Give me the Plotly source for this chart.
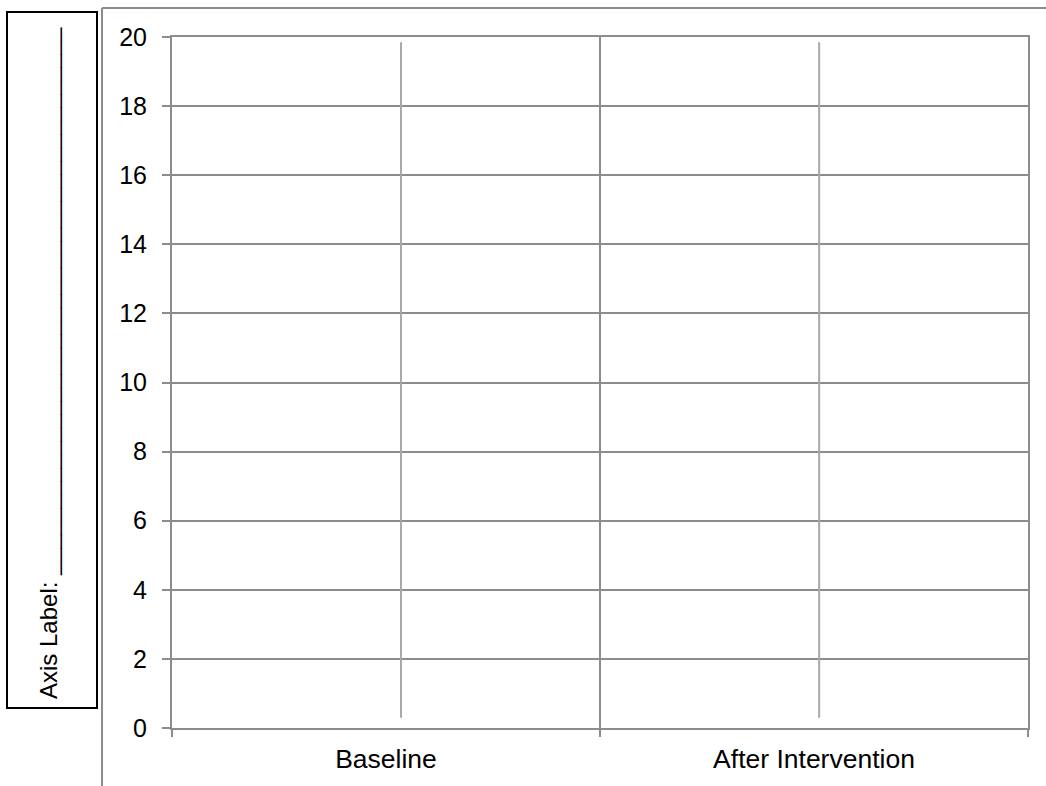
import plotly.graph_objects as go

categories = ["Baseline", "After Intervention"]
line_pos = [0.035, 1.012]      # position of the vertical lines, in category units
line_low = [0.3, 0.3]
line_high = [19.85, 19.85]
y_ticks = [0, 2, 4, 6, 8, 10, 12, 14, 16, 18, 20]
axis_label_text = "Axis Label: " + "_" * 41

W, H = 1046, 786
L, R, T, B = 172, 18, 37, 58
pw, ph = W - L - R, H - T - B

def px(x):
    return (x - L) / pw

def py(y):
    return (H - B - y) / ph

GRID = "#8c8c8c"
FONT = "Liberation Sans, Arial, sans-serif"

fig = go.Figure()
# invisible trace to anchor categories on the main x axis
fig.add_trace(go.Scatter(x=categories, y=[None, None], mode="markers",
                         showlegend=False, hoverinfo="skip"))
for xp, lo, hi in zip(line_pos, line_low, line_high):
    fig.add_trace(go.Scatter(x=[xp, xp], y=[lo, hi], mode="lines", xaxis="x2",
                             line=dict(color="#a8a8a8", width=2),
                             showlegend=False, hoverinfo="skip"))

fig.update_layout(
    width=W, height=H,
    margin=dict(l=L, r=R, t=T, b=B),
    paper_bgcolor="white", plot_bgcolor="white",
    font=dict(family=FONT, size=24, color="black"),
    showlegend=False,
    xaxis=dict(
        type="category", categoryorder="array", categoryarray=categories,
        range=[-0.5, 1.5], tickson="boundaries",
        ticks="outside", ticklen=7, tickwidth=2, tickcolor=GRID,
        showgrid=True, gridcolor=GRID, gridwidth=2,
        showline=True, linecolor=GRID, linewidth=2, mirror=True,
        tickfont=dict(size=26.5, color="black"), zeroline=False,
        ticklabelstandoff=6,
    ),
    xaxis2=dict(
        overlaying="x", range=[-0.5, 1.5], visible=False,
        showgrid=False, zeroline=False,
    ),
    yaxis=dict(
        range=[0, 20], tickvals=y_ticks,
        ticks="outside", ticklen=8, tickwidth=2, tickcolor=GRID,
        showgrid=True, gridcolor=GRID, gridwidth=2,
        showline=True, linecolor=GRID, linewidth=2, mirror=True,
        zeroline=False, tickfont=dict(size=25, color="black"),
        ticklabelstandoff=10,
    ),
)

# outer chart-area border (partially visible)
fig.add_shape(type="line", xref="paper", yref="paper",
              x0=px(102), x1=px(W + 5), y0=py(8), y1=py(8),
              line=dict(color=GRID, width=2))
fig.add_shape(type="line", xref="paper", yref="paper",
              x0=px(102), x1=px(102), y0=py(8), y1=py(H + 5),
              line=dict(color=GRID, width=2))
# axis-label box
fig.add_shape(type="rect", xref="paper", yref="paper",
              x0=px(7), x1=px(97), y0=py(708), y1=py(12),
              line=dict(color="black", width=2), fillcolor="white")
fig.add_annotation(xref="paper", yref="paper", x=px(48), y=py(363),
                   text=axis_label_text, textangle=-90, showarrow=False,
                   xanchor="center", yanchor="middle",
                   font=dict(family=FONT, size=24, color="black"))

fig.write_html("out.html", config={"displayModeBar": False},
               post_script="document.body.style.margin='0';document.body.style.overflow='hidden';")
